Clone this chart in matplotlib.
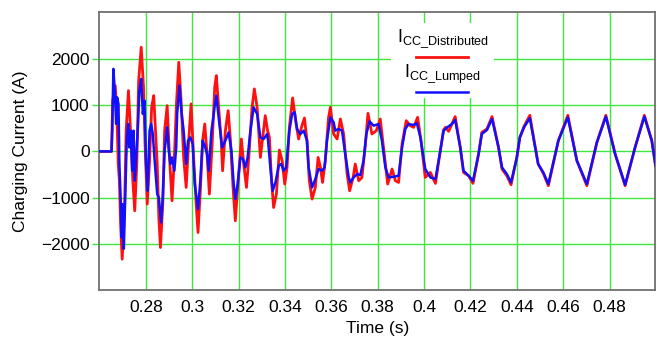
import matplotlib
matplotlib.use("Agg")
import matplotlib.pyplot as plt
from matplotlib.patches import Rectangle
from matplotlib.lines import Line2D

plt.rcParams['font.family'] = ['Liberation Sans', 'DejaVu Sans']
plt.rcParams['mathtext.fontset'] = 'custom'
plt.rcParams['mathtext.rm'] = 'Liberation Sans'

# time (s), current (A)
t_dist = [0.2600, 0.2652, 0.2657, 0.2668, 0.2675, 0.2681, 0.2686, 0.2691, 0.2698, 0.2708,
          0.2715, 0.2725, 0.2734, 0.2744, 0.2752, 0.2761, 0.2769, 0.2780, 0.2790, 0.2797,
          0.2806, 0.2816, 0.2825, 0.2834, 0.2849, 0.2856, 0.2863, 0.2873, 0.2881, 0.2892,
          0.2902, 0.2913, 0.2923, 0.2932, 0.2942, 0.2952, 0.2963, 0.2974, 0.2985, 0.2995,
          0.3006, 0.3017, 0.3025, 0.3035, 0.3045, 0.3054, 0.3064, 0.3074, 0.3086, 0.3097,
          0.3104, 0.3114, 0.3125, 0.3131, 0.3143, 0.3155, 0.3165, 0.3176, 0.3186, 0.3196,
          0.3212, 0.3222, 0.3234, 0.3244, 0.3258, 0.3268, 0.3280, 0.3294, 0.3306, 0.3315,
          0.3325, 0.3333, 0.3342, 0.3351, 0.3363, 0.3376, 0.3388, 0.3399, 0.3409, 0.3419,
          0.3433, 0.3448, 0.3459, 0.3471, 0.3484, 0.3495, 0.3505, 0.3517, 0.3531, 0.3543,
          0.3553, 0.3562, 0.3574, 0.3588, 0.3596, 0.3610, 0.3625, 0.3639, 0.3653, 0.3668,
          0.3679, 0.3694, 0.3703, 0.3718, 0.3732, 0.3747, 0.3758, 0.3775, 0.3794, 0.3811,
          0.3825, 0.3843, 0.3862, 0.3876, 0.3890, 0.3905, 0.3923, 0.3940, 0.3955, 0.3972,
          0.3987, 0.4005, 0.4027, 0.4049, 0.4070, 0.4084, 0.4092, 0.4106, 0.4134, 0.4156,
          0.4170, 0.4192, 0.4211, 0.4235, 0.4249, 0.4271, 0.4293, 0.4321, 0.4336, 0.4357,
          0.4375, 0.4400, 0.4413, 0.4431, 0.4456, 0.4492, 0.4514, 0.4536, 0.4579, 0.4620,
          0.4659, 0.4702, 0.4745, 0.4784, 0.4824, 0.4867, 0.4910, 0.4950, 0.4982, 0.4998]
i_dist = [0, 0, 1095, 1419, 808, -272, -633, -1569, -2324, -1281,
          447, 1311, 447, -633, -1281, -272, 1527, 2246, 1382, 87,
          -1137, -200, 950, 1203, -272, -1425, -2073, -1137, 447, 987,
          -130, -1065, -130, 1024, 1922, 1095, -130, -777, 231, 1024,
          -130, -1137, -1749, -849, 231, 592, -57, -920, 160, 1382,
          1635, 950, 231, -417, 447, 879, 231, -777, -1497, -777,
          267, -272, -777, -130, 950, 1348, 950, -130, 375, 771,
          447, 302, -633, -1210, -920, 30, -200, -705, -345, 518,
          1153, 592, 267, 518, 721, 231, -633, -1028, -777, -130,
          -345, -670, -200, 735, 950, 375, 267, 700, 375, -490,
          -849, -561, -272, -633, -561, 160, 821, 375, 447, 700,
          87, -705, -380, -633, -670, 160, 663, 555, 518, 735,
          231, -561, -453, -690, 15, 462, 518, 433, 750, 87,
          -453, -525, -690, -57, 411, 484, 750, 87, -380, -525,
          -720, -130, 302, 540, 778, -272, -470, -740, 231, 778,
          -201, -740, 190, 778, -57, -740, 87, 778, 231, -300]

t_lump = [0.2600, 0.2652, 0.2655, 0.2660, 0.2666, 0.2672, 0.2676, 0.2682, 0.2686, 0.2691,
          0.2696, 0.2700, 0.2705, 0.2712, 0.2718, 0.2724, 0.2729, 0.2735, 0.2741, 0.2747,
          0.2752, 0.2758, 0.2765, 0.2772, 0.2780, 0.2787, 0.2794, 0.2801, 0.2808, 0.2816,
          0.2823, 0.2830, 0.2837, 0.2849, 0.2856, 0.2866, 0.2873, 0.2881, 0.2892, 0.2899,
          0.2906, 0.2913, 0.2923, 0.2931, 0.2935, 0.2945, 0.2953, 0.2963, 0.2974, 0.2982,
          0.2992, 0.3002, 0.3011, 0.3025, 0.3035, 0.3045, 0.3054, 0.3064, 0.3071, 0.3083,
          0.3093, 0.3096, 0.3104, 0.3114, 0.3129, 0.3143, 0.3157, 0.3169, 0.3179, 0.3186,
          0.3196, 0.3208, 0.3219, 0.3229, 0.3239, 0.3251, 0.3265, 0.3280, 0.3294, 0.3308,
          0.3323, 0.3327, 0.3337, 0.3347, 0.3359, 0.3373, 0.3384, 0.3394, 0.3405, 0.3419,
          0.3431, 0.3442, 0.3452, 0.3466, 0.3481, 0.3495, 0.3502, 0.3517, 0.3531, 0.3545,
          0.3560, 0.3571, 0.3581, 0.3596, 0.3610, 0.3617, 0.3631, 0.3646, 0.3660, 0.3675,
          0.3682, 0.3696, 0.3711, 0.3725, 0.3739, 0.3751, 0.3765, 0.3782, 0.3804, 0.3818,
          0.3833, 0.3847, 0.3868, 0.3890, 0.3905, 0.3919, 0.3933, 0.3952, 0.3969, 0.3984,
          0.4005, 0.4027, 0.4049, 0.4070, 0.4084, 0.4099, 0.4120, 0.4134, 0.4156, 0.4170,
          0.4192, 0.4211, 0.4235, 0.4249, 0.4271, 0.4293, 0.4321, 0.4336, 0.4357, 0.4375,
          0.4400, 0.4413, 0.4431, 0.4456, 0.4492, 0.4514, 0.4536, 0.4579, 0.4620, 0.4659,
          0.4702, 0.4745, 0.4784, 0.4824, 0.4867, 0.4910, 0.4950, 0.4982, 0.4998]
i_lump = [0, 0, 447, 1780, 1311, 592, 1166, 1024, -272, -993,
          -1857, -1137, -2100, -777, 302, 592, 87, 447, -417, 447,
          -633, -130, 447, 1311, 1563, 808, 1095, -272, -849, 447,
          592, 375, -130, -920, -993, -1533, -993, 15, 518, 15,
          -272, -130, -417, 87, 808, 1419, 879, 447, -272, 231,
          302, 160, -705, -1245, -633, 231, 123, -57, -417, 447,
          808, 950, 1203, 735, 87, 231, 410, 15, -705, -1028,
          -705, -130, -164, -345, -130, 447, 950, 808, 302, 267,
          375, 231, -345, -849, -670, -309, -272, -417, -345, 447,
          808, 843, 484, 375, 447, 231, -345, -777, -597, -380,
          -417, -345, 231, 735, 627, 447, 484, 447, -57, -561,
          -670, -561, -490, -510, -200, 375, 648, 555, 590, 231,
          -345, -561, -547, -525, 87, 484, 590, 570, 605, 302,
          -380, -561, -597, 15, 447, 518, 590, 678, 87, -417,
          -525, -633, -57, 375, 462, 700, 87, -345, -490, -670,
          -130, 302, 518, 720, -272, -453, -705, 231, 735, -201,
          -705, 190, 750, -57, -720, 87, 750, 231, -300]

x_ticks = [0.28, 0.30, 0.32, 0.34, 0.36, 0.38, 0.40, 0.42, 0.44, 0.46, 0.48]
x_labels = ['0.28', '0.3', '0.32', '0.34', '0.36', '0.38', '0.4', '0.42', '0.44', '0.46', '0.48']
y_ticks = [-2000, -1000, 0, 1000, 2000]

grid_green = '#3ee63e'

fig = plt.figure(figsize=(6.57, 3.39), dpi=100)
ax = fig.add_axes([0.1514, 0.1431, 0.8463, 0.8206])

ax.plot(t_dist, i_dist, color='#ff1010', lw=2.0, zorder=3, solid_joinstyle='round')
ax.plot(t_lump, i_lump, color='#1010ff', lw=1.8, zorder=4, solid_joinstyle='round')

ax.set_xlim(0.26, 0.4998)
ax.set_ylim(-3000, 3000)
ax.set_xticks(x_ticks)
ax.set_xticklabels(x_labels)
ax.set_yticks(y_ticks)
ax.grid(True, color=grid_green, lw=1.0, zorder=1)
ax.set_axisbelow(True)
ax.tick_params(axis='x', length=0, pad=7, labelsize=12.5)
ax.tick_params(axis='y', length=5, color=grid_green, width=1.0, pad=2, labelsize=12.5)
for sp in ax.spines.values():
    sp.set_color('#707070')
    sp.set_linewidth(1.3)
ax.set_xlabel('Time (s)', fontsize=12.5, labelpad=4)
ax.set_ylabel('Charging Current (A)', fontsize=12.5, labelpad=9)

# legend block: white box over the grid, label above its line
ax.add_patch(Rectangle((0.524, 0.692), 0.186, 0.27, transform=ax.transAxes,
                       facecolor='white', edgecolor='none', zorder=2))
ax.text(0.617, 0.905, r'I$_{\mathrm{CC\_Distributed}}$', transform=ax.transAxes,
        ha='center', va='center', fontsize=13, zorder=5)
ax.add_line(Line2D([0.570, 0.663], [0.840, 0.840], transform=ax.transAxes,
                   color='#ff1010', lw=2.0, zorder=5))
ax.text(0.617, 0.78, r'I$_{\mathrm{CC\_Lumped}}$', transform=ax.transAxes,
        ha='center', va='center', fontsize=13, zorder=5)
ax.add_line(Line2D([0.570, 0.663], [0.7146, 0.7146], transform=ax.transAxes,
                   color='#1010ff', lw=1.8, zorder=5))

fig.savefig('out.png', dpi=100)
